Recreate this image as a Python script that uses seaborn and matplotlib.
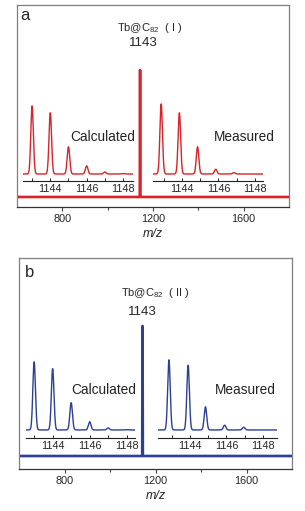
import numpy as np
import pandas as pd
import seaborn as sns
import matplotlib
matplotlib.use('Agg')
from matplotlib import pyplot as plt
from matplotlib.ticker import FixedLocator

# main spectrum (m/z, relative intensity)
mz_main = [600, 1141.5, 1143, 1144.5, 1800]
int_a = [0, 0, 1.0, 0, 0]
int_b = [0, 0, 1.0, 0, 0]

# isotope peaks (insets)
iso_calc = [1143, 1144, 1145, 1146, 1147, 1148]
h_calc_a = [1.0, 0.90, 0.40, 0.12, 0.03, 0.005]
h_calc_b = [1.0, 0.90, 0.40, 0.12, 0.03, 0.005]
iso_meas_a = [1142.85, 1143.85, 1144.85, 1145.85, 1146.85]
h_meas_a = [1.03, 0.90, 0.40, 0.07, 0.02]
iso_meas_b = [1142.85, 1143.9, 1144.85, 1145.9, 1146.95]
h_meas_b = [1.03, 0.95, 0.34, 0.07, 0.04]

inset_ticks = [1143, 1144, 1145, 1146, 1147, 1148]
inset_labels = ['', '1144', '', '1146', '', '1148']

labels = ['a', 'b']
titles = ['Tb@C$_{82}$  ( I )', 'Tb@C$_{82}$  ( II )']

red = '#d8232a'
blue = '#2b3f94'

sns.set_style('ticks')
plt.rcParams['font.family'] = ['Liberation Sans', 'DejaVu Sans']
plt.rcParams['mathtext.fontset'] = 'custom'
plt.rcParams['mathtext.rm'] = 'Liberation Sans'
plt.rcParams['mathtext.it'] = 'Liberation Sans:italic'


def profile(x0, x1, centers, heights, sigma=0.07):
    xs = np.linspace(x0, x1, 1200)
    ys = np.zeros_like(xs)
    for c, h in zip(centers, heights):
        ys += h * np.exp(-0.5 * ((xs - c) / sigma) ** 2)
    return pd.DataFrame({'x': xs, 'y': ys})


def main_axes(fig, rect, mz, inten, color, ylim, letter, title, txt):
    ax = fig.add_axes(rect)
    sns.lineplot(x=mz, y=inten, ax=ax, color=color, lw=1.9, errorbar=None)
    ax.set_xlim(600, 1800)
    ax.set_ylim(*ylim)
    ax.set_yticks([])
    ax.set_ylabel('')
    ax.xaxis.set_major_locator(FixedLocator([800, 1200, 1600]))
    ax.xaxis.set_minor_locator(FixedLocator([1000, 1400]))
    ax.tick_params(axis='x', which='major', length=3, width=0.8, labelsize=7.8, pad=2, color='#444444')
    ax.tick_params(axis='x', which='minor', length=2, width=0.8, color='#444444')
    for s in ['left', 'right', 'top']:
        ax.spines[s].set_color('#7f7f7f')
        ax.spines[s].set_linewidth(0.9)
    ax.spines['bottom'].set_color('#333333')
    ax.spines['bottom'].set_linewidth(0.9)
    ax.set_xlabel('m/z', fontsize=9, style='italic', labelpad=3)
    ax.text(txt['letter'][0], txt['letter'][1], letter, transform=ax.transAxes,
            fontsize=12, ha='center', va='center')
    ax.text(txt['title'][0], txt['title'][1], title, transform=ax.transAxes,
            fontsize=8, ha='center', va='center')
    ax.text(txt['mass'][0], txt['mass'][1], '1143', transform=ax.transAxes,
            fontsize=9.5, ha='center', va='center')
    ax.text(txt['calc'][0], txt['calc'][1], 'Calculated', transform=ax.transAxes,
            fontsize=9.8, ha='center', va='center', color='#222222')
    ax.text(txt['meas'][0], txt['meas'][1], 'Measured', transform=ax.transAxes,
            fontsize=9.8, ha='center', va='center', color='#222222')
    return ax


def inset(fig, rect, xlim, ylim, centers, heights, color):
    ax = fig.add_axes(rect)
    ax.patch.set_alpha(0)
    df = profile(xlim[0], xlim[1], centers, heights)
    sns.lineplot(data=df, x='x', y='y', ax=ax, color=color, lw=1.0, errorbar=None)
    ax.set_xlim(*xlim)
    ax.set_ylim(*ylim)
    for s in ['left', 'right', 'top']:
        ax.spines[s].set_visible(False)
    ax.spines['bottom'].set_linewidth(0.8)
    ax.spines['bottom'].set_color('#222222')
    ax.set_yticks([])
    ax.set_xticks(inset_ticks)
    ax.set_xticklabels(inset_labels)
    ax.tick_params(axis='x', direction='in', length=2.5, width=0.7, labelsize=7.8, pad=2,
                   color='#222222')
    ax.set_xlabel('')
    ax.set_ylabel('')
    return ax


W, H = 305, 511
fig = plt.figure(figsize=(W / 100, H / 100), dpi=100)


def frac(x0, y_top, x1, y_bot):
    return [x0 / W, 1 - y_bot / H, (x1 - x0) / W, (y_bot - y_top) / H]


ax_a = main_axes(fig, frac(17, 5, 289, 207), mz_main, int_a, red, (-0.079, 1.512),
                 labels[0], titles[0],
                 {'letter': (0.03, 0.95), 'title': (0.49, 0.886), 'mass': (0.463, 0.812),
                  'calc': (0.316, 0.347), 'meas': (0.835, 0.347)})
inset(fig, frac(23, 100, 133, 181), (1142.5, 1148.55), (-0.103, 1.088), iso_calc, h_calc_a, red)
inset(fig, frac(153, 100, 263, 181), (1142.4, 1148.45), (-0.103, 1.088), iso_meas_a, h_meas_a, red)

ax_b = main_axes(fig, frac(19, 258, 292, 469), mz_main, int_b, blue, (-0.1, 1.523),
                 labels[1], titles[1],
                 {'letter': (0.04, 0.929), 'title': (0.50, 0.834), 'mass': (0.45, 0.744),
                  'calc': (0.311, 0.374), 'meas': (0.83, 0.374)})
inset(fig, frac(26, 355, 135, 438), (1142.56, 1148.45), (-0.118, 1.10), iso_calc, h_calc_b, blue)
inset(fig, frac(158, 355, 277, 438), (1142.25, 1148.77), (-0.118, 1.10), iso_meas_b, h_meas_b, blue)

fig.savefig('out.png', dpi=100)
